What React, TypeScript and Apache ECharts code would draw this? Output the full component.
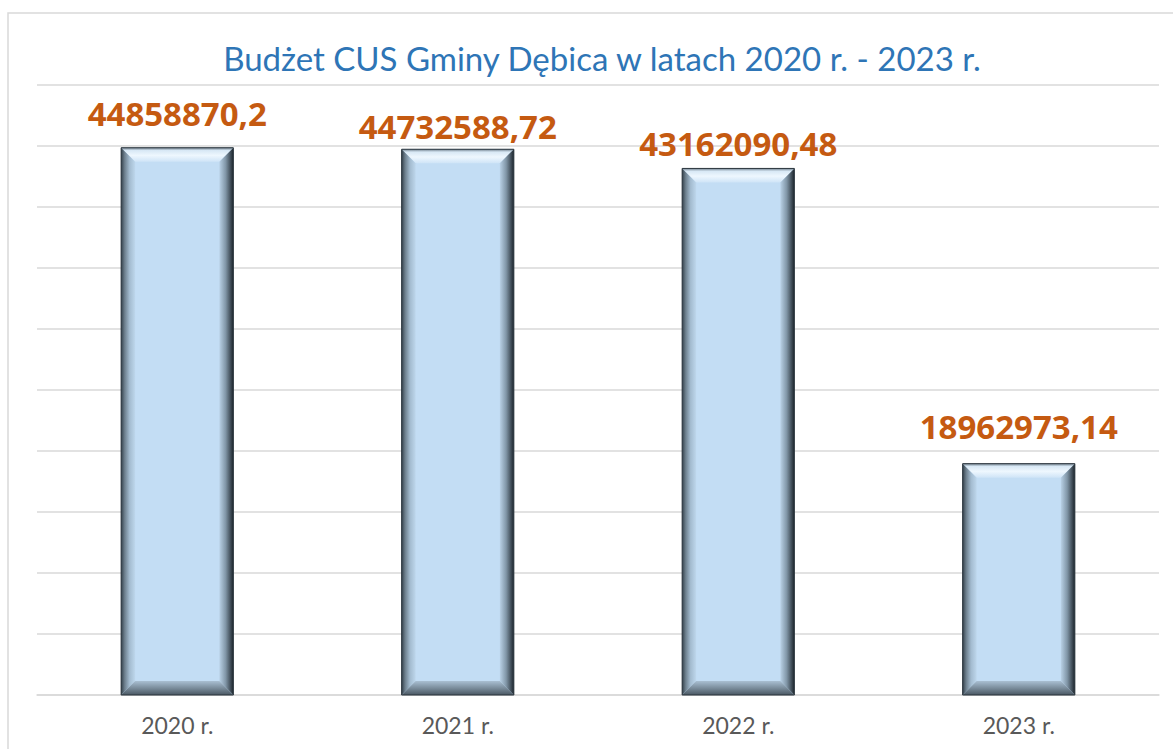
import React, { useEffect, useRef } from "react";
import * as echarts from "echarts";

const categories = ["2020 r.", "2021 r.", "2022 r.", "2023 r."];
const values = [44858870.2, 44732588.72, 43162090.48, 18962973.14];
const titleText = "Budżet CUS Gminy Dębica w latach 2020 r. - 2023 r.";
// style: gap between label bottom and bar top, per bar
const labelGaps = [21, 10, 12, 24];

const fmt = (v: number) => String(v).replace(".", ",");

export default function App() {
  const ref = useRef<HTMLDivElement>(null);
  useEffect(() => {
    if (!ref.current) return;
    const chart = echarts.init(ref.current, undefined, { renderer: "svg" });
    const LG = echarts.graphic.LinearGradient;
    chart.setOption({
      animation: false,
      backgroundColor: "#ffffff",
      title: {
        text: titleText,
        left: 597,
        top: 36,
        textAlign: "center",
        textStyle: { fontFamily: "Lato", fontWeight: "normal", fontSize: 33, color: "#2e75b6" },
      },
      graphic: [
        {
          type: "rect",
          shape: { x: 8, y: 13, width: 1300, height: 900 },
          style: { fill: "none", stroke: "#d9d9d9", lineWidth: 1.5 },
          silent: true,
        },
      ],
      grid: { left: 37, right: 14, top: 85, bottom: 54 },
      xAxis: {
        type: "category",
        data: categories,
        axisTick: { show: false },
        axisLine: { lineStyle: { color: "#d9d9d9", width: 1.5 } },
        axisLabel: { color: "#595959", fontFamily: "Lato", fontSize: 23, margin: 18 },
      },
      yAxis: {
        type: "value",
        min: 0,
        max: 50000000,
        interval: 5000000,
        axisLabel: { show: false },
        axisLine: { show: false },
        axisTick: { show: false },
        splitLine: { lineStyle: { color: "#d9d9d9", width: 1.5 } },
      },
      series: [
        {
          type: "custom",
          data: values.map((v, i) => [i, v]),
          encode: { x: 0, y: 1 },
          renderItem: (params: any, api: any) => {
            const idx = api.value(0);
            const val = api.value(1);
            const top = api.coord([idx, val]);
            const base = api.coord([idx, 0]);
            const w = api.size([1, 0])[0] * 0.4;
            const x0 = top[0] - w / 2;
            const x1 = top[0] + w / 2;
            const y0 = top[1];
            const y1 = base[1];
            const b = 14;
            const gap = labelGaps[params.dataIndex] ?? 15;
            return {
              type: "group",
              children: [
                {
                  type: "rect",
                  shape: { x: x0, y: y0, width: w, height: y1 - y0 },
                  style: { fill: "#c3ddf4" },
                },
                {
                  type: "polygon",
                  shape: { points: [[x0, y0], [x1, y0], [x1 - b, y0 + b], [x0 + b, y0 + b]] },
                  style: {
                    fill: new LG(0, 0, 0, 1, [
                      { offset: 0, color: "#6f7f8c" },
                      { offset: 0.2, color: "#d8e8f5" },
                      { offset: 0.55, color: "#eef7fe" },
                      { offset: 1, color: "#cfe4f7" },
                    ]),
                  },
                },
                {
                  type: "polygon",
                  shape: { points: [[x0, y0], [x0 + b, y0 + b], [x0 + b, y1 - b], [x0, y1]] },
                  style: {
                    fill: new LG(0, 0, 1, 0, [
                      { offset: 0, color: "#34414b" },
                      { offset: 0.25, color: "#6d7f8d" },
                      { offset: 0.6, color: "#a3bbcf" },
                      { offset: 1, color: "#bed7ec" },
                    ]),
                  },
                },
                {
                  type: "polygon",
                  shape: { points: [[x1, y0], [x1, y1], [x1 - b, y1 - b], [x1 - b, y0 + b]] },
                  style: {
                    fill: new LG(0, 0, 1, 0, [
                      { offset: 0, color: "#b9d1e6" },
                      { offset: 0.45, color: "#8196a7" },
                      { offset: 0.8, color: "#414e59" },
                      { offset: 1, color: "#1c252c" },
                    ]),
                  },
                },
                {
                  type: "polygon",
                  shape: { points: [[x0, y1], [x1, y1], [x1 - b, y1 - b], [x0 + b, y1 - b]] },
                  style: {
                    fill: new LG(0, 0, 0, 1, [
                      { offset: 0, color: "#a9bfd2" },
                      { offset: 0.5, color: "#7b8d9c" },
                      { offset: 1, color: "#4a5863" },
                    ]),
                  },
                },
                {
                  type: "rect",
                  shape: { x: x0, y: y0, width: w, height: y1 - y0 },
                  style: { fill: "none", stroke: "#2a343c", lineWidth: 1 },
                },
                {
                  type: "text",
                  x: top[0],
                  y: y0 - gap - 13,
                  style: {
                    text: fmt(val),
                    fill: "#c55a11",
                    font: 'bold 33px "Open Sans"',
                    textAlign: "center",
                    textVerticalAlign: "middle",
                  },
                },
              ],
            };
          },
        },
      ],
    });
    return () => chart.dispose();
  }, []);
  return (
    <div
      ref={ref}
      style={{ position: "fixed", left: 0, top: 0, width: 1173, height: 749 }}
    />
  );
}
